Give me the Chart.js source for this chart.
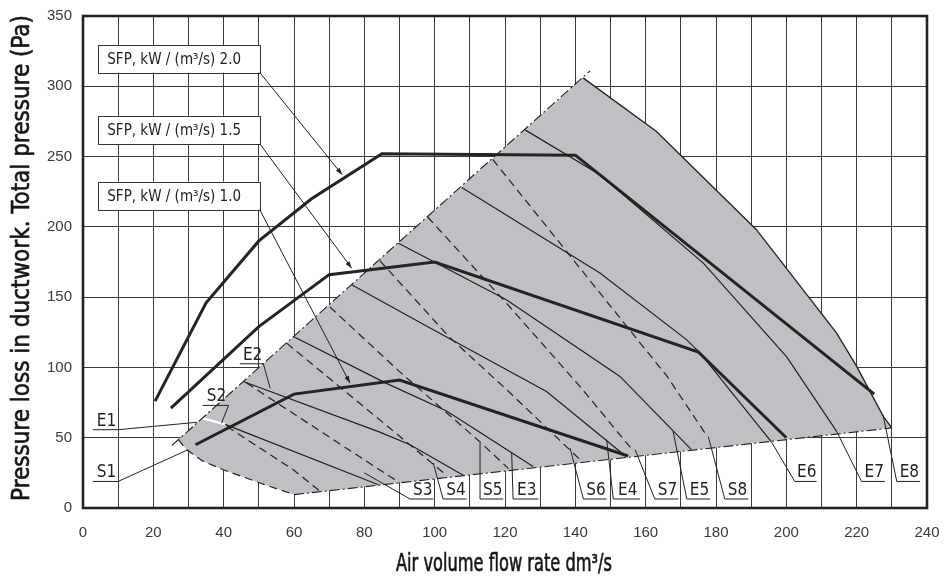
<!DOCTYPE html>
<html>
<head>
<meta charset="utf-8">
<script src="https://cdn.jsdelivr.net/npm/chart.js@4.4.1/dist/chart.umd.min.js"></script>
<style>
  html, body { margin: 0; padding: 0; background: #ffffff; }
  #chart { display: block; }
</style>
</head>
<body>
<canvas id="chart" width="947" height="584"></canvas>
<script>
// ---- Specific fan power curves (air flow dm3/s, total pressure Pa) ----
const sfp20 = [[20.5, 76], [35, 146], [50, 190], [65, 220], [85, 252], [140, 251], [225, 81]];
const sfp15 = [[25, 71], [50, 129], [70, 166], [100, 175], [175, 111], [200, 50]];
const sfp10 = [[32, 45], [60, 81], [90, 91], [155, 37]];

// ---- Fan speed curves E1..E7 (solid) ----
const curveE1 = [[40.4, 59.5], [84, 16.5]];
const curveE1Lead = [[33, 64.5], [40.4, 59.5]];
const curveE2 = [[45.6, 90], [84.4, 54], [93, 45], [108.5, 22.7]];
const curveE3 = [[59.8, 122], [86, 89], [103.4, 69], [128, 29.5]];
const curveE4 = [[76.4, 158.8], [99.6, 126.8], [131.8, 82.9], [154, 37.5]];
const curveE5 = [[89.7, 188.4], [120.4, 148.1], [152.7, 93.6], [173, 41.5]];
const curveE6 = [[107.7, 228], [147, 167.2], [171.6, 119.8], [175.4, 110.5], [195.8, 46.8]];
const curveE7 = [[125.7, 269], [147, 237], [176.4, 174.2], [200.1, 107.5], [214.3, 54.5]];

// ---- System curves S1..S8 (dashed) ----
const curveS1 = [[27.1, 48.6], [29.5, 41.4], [34, 33.5], [39.9, 27.2], [50.3, 17.8], [60, 9.5]];
const curveS2 = [[40.9, 58], [59.8, 27.2], [67.4, 12]];
const curveS3 = [[46.5, 89], [68.3, 53.3], [90, 18]];
const curveS4 = [[57.9, 117.3], [90.1, 50.9], [103.5, 23]];
const curveS5 = [[70.2, 143], [90, 97], [112.9, 47], [121, 28]];
const curveS6 = [[84.4, 176], [104, 122], [121.4, 82], [141.5, 34]];
const curveS7 = [[98, 207], [121.4, 143], [141.3, 86.5], [156, 42]];
const curveS8 = [[116.5, 248], [155, 128], [166, 94], [177.5, 51]];

// ---- Working range outline ----
const rangeUpperEdge = [[25.3, 44.5], [144.2, 311]];
const rangeRightEdge = [[142.2, 306], [163, 268], [191.5, 198], [214.3, 124.4], [220, 100.7], [227.6, 65], [230, 57]];
const rangeLowerEdge = [[60, 9.5], [230, 57]];

// ---- Curve labels: text, underline start/end x, underline y, leader target ----
const labelText = ['S1', 'E1', 'S2', 'E2', 'S3', 'S4', 'S5', 'E3', 'S6', 'E4', 'S7', 'E5', 'S8', 'E6', 'E7', 'E8'];
const labelLineX0 = [2.8, 2.8, 34, 44.6, 93, 102.4, 112.9, 122.3, 142.3, 150.8, 162.6, 171.7, 182.5, 202.4, 221.4, 231.4];
const labelLineX1 = [10, 10, 41.4, 51.3, 99.6, 109.1, 119.5, 129.5, 148.9, 158.4, 169.3, 178.3, 189.2, 208.6, 228, 238];
const labelLineY = [18.9, 55.7, 73, 102.6, 6.4, 6.4, 6.4, 6.4, 6.4, 6.4, 6.4, 6.4, 6.4, 18.9, 18.9, 18.9];
const labelFromX = [10, 10, 41.4, 51.3, 93, 102.4, 112.9, 122.3, 142.3, 150.8, 162.6, 171.7, 182.5, 202.4, 221.4, 231.4];
const labelTargetX = [29.9, 32.5, 39.4, 53.2, 80, 99.6, 112.9, 121.9, 138.5, 148.9, 157, 167.8, 177.8, 195.8, 214.3, 227.5];
const labelTargetY = [41.5, 61, 60.4, 85.3, 25, 32, 46.2, 39.1, 42.6, 48.6, 41.5, 54.5, 50.9, 46.8, 54.5, 66.3];

// ---- SFP callout boxes ----
const sfpBoxText = ['SFP, kW / (m\u00B3/s) 2.0', 'SFP, kW / (m\u00B3/s) 1.5', 'SFP, kW / (m\u00B3/s) 1.0'];
const sfpBoxTop = [329.4, 279.1, 232.2];
const sfpBoxBottom = [309.7, 259, 212.1];
const sfpBoxLeft = 4.35;
const sfpBoxRight = 50.3;
const sfpArrowX = [73.7, 76.4, 75.9];
const sfpArrowY = [237.1, 170.6, 88.9];

const INK = '#231f20';
const FONT = '"Liberation Sans Narrow", "DejaVu Sans Condensed", "Liberation Sans", sans-serif';
const TICK_FONT = '"Liberation Sans", Arial, sans-serif';

const toPoints = arr => arr.map(([x, y]) => ({ x, y }));
function curve(arr, extra) {
  return Object.assign({
    data: toPoints(arr),
    showLine: true,
    pointRadius: 0,
    pointHoverRadius: 0,
    borderColor: INK,
    borderWidth: 1.2,
    tension: 0,
    fill: false
  }, extra || {});
}
const DASH = [8, 5];
const DASH_DOT = [10, 3, 2, 3];

const datasets = [
  curve(rangeUpperEdge, { borderDash: DASH_DOT, borderWidth: 1.1 }),
  curve(rangeLowerEdge, { borderDash: DASH_DOT, borderWidth: 1.1 }),
  curve(rangeRightEdge, { borderWidth: 1.3 }),
  curve(curveS1, { borderDash: DASH, borderWidth: 1.2 }),
  curve(curveS2, { borderDash: DASH }),
  curve(curveS3, { borderDash: DASH }),
  curve(curveS4, { borderDash: DASH }),
  curve(curveS5, { borderDash: DASH }),
  curve(curveS6, { borderDash: DASH }),
  curve(curveS7, { borderDash: DASH }),
  curve(curveS8, { borderDash: DASH }),
  curve(curveE1Lead, { borderColor: '#ffffff', borderWidth: 2.5 }),
  curve(curveE1),
  curve(curveE2),
  curve(curveE3),
  curve(curveE4),
  curve(curveE5),
  curve(curveE6),
  curve(curveE7),
  curve(sfp10, { borderWidth: 3, borderColor: '#262324' }),
  curve(sfp15, { borderWidth: 3, borderColor: '#262324' }),
  curve(sfp20, { borderWidth: 3, borderColor: '#262324' })
];

// grey working-range area, filled beneath the curves
const rangeFill = {
  id: 'rangeFill',
  beforeDatasetsDraw(chart) {
    const { ctx, scales: { x, y } } = chart;
    const outline = [curveS1[0], ...rangeRightEdge, rangeLowerEdge[0], ...curveS1.slice().reverse()];
    ctx.save();
    ctx.beginPath();
    outline.forEach(([a, b], i) => {
      const px = x.getPixelForValue(a), py = y.getPixelForValue(b);
      if (i === 0) ctx.moveTo(px, py); else ctx.lineTo(px, py);
    });
    ctx.closePath();
    ctx.fillStyle = '#bfc0c4';
    ctx.fill();
    ctx.restore();
  }
};

function arrowHead(ctx, x0, y0, x1, y1) {
  const ang = Math.atan2(y1 - y0, x1 - x0);
  const len = 7, half = 2.4;
  ctx.beginPath();
  ctx.moveTo(x1, y1);
  ctx.lineTo(x1 - len * Math.cos(ang) + half * Math.sin(ang), y1 - len * Math.sin(ang) - half * Math.cos(ang));
  ctx.lineTo(x1 - len * Math.cos(ang) - half * Math.sin(ang), y1 - len * Math.sin(ang) + half * Math.cos(ang));
  ctx.closePath();
  ctx.fill();
}

// heavier title text: fill plus a thin outline of the same colour
function heavyText(ctx, text, width) {
  ctx.fillText(text, 0, 0);
  ctx.lineWidth = width;
  ctx.strokeText(text, 0, 0);
}

// curve labels, SFP callouts, axis titles and frame
const annotations = {
  id: 'annotations',
  afterDatasetsDraw(chart) {
    const { ctx, scales: { x, y } } = chart;
    ctx.save();
    ctx.strokeStyle = INK;
    ctx.fillStyle = INK;
    ctx.lineWidth = 1;

    // curve labels with underline and leader
    ctx.font = '17px ' + FONT;
    ctx.textBaseline = 'alphabetic';
    ctx.textAlign = 'center';
    labelText.forEach((t, i) => {
      const ux0 = x.getPixelForValue(labelLineX0[i]);
      const ux1 = x.getPixelForValue(labelLineX1[i]);
      const uy = y.getPixelForValue(labelLineY[i]);
      ctx.beginPath();
      ctx.moveTo(ux0, uy);
      ctx.lineTo(ux1, uy);
      ctx.moveTo(x.getPixelForValue(labelFromX[i]), uy);
      ctx.lineTo(x.getPixelForValue(labelTargetX[i]), y.getPixelForValue(labelTargetY[i]));
      ctx.stroke();
      ctx.fillText(t, (ux0 + ux1) / 2 + 1, uy - 4);
    });

    // SFP callouts
    ctx.textAlign = 'left';
    ctx.textBaseline = 'middle';
    ctx.font = '15px ' + FONT;
    sfpBoxText.forEach((t, i) => {
      const l = x.getPixelForValue(sfpBoxLeft), r = x.getPixelForValue(sfpBoxRight);
      const tp = y.getPixelForValue(sfpBoxTop[i]), bt = y.getPixelForValue(sfpBoxBottom[i]);
      const ax = x.getPixelForValue(sfpArrowX[i]), ay = y.getPixelForValue(sfpArrowY[i]);
      ctx.fillStyle = '#ffffff';
      ctx.fillRect(l, tp, r - l, bt - tp);
      ctx.strokeStyle = '#333333';
      ctx.lineWidth = 1;
      ctx.strokeRect(Math.round(l) + 0.5, Math.round(tp) + 0.5, Math.round(r - l), Math.round(bt - tp));
      ctx.fillStyle = '#222222';
      ctx.fillText(t, l + 9, (tp + bt) / 2 + 1);
      ctx.strokeStyle = INK;
      ctx.beginPath();
      ctx.moveTo(r, bt);
      ctx.lineTo(ax, ay);
      ctx.stroke();
      ctx.fillStyle = INK;
      arrowHead(ctx, r, bt, ax, ay);
    });
    ctx.restore();
  },
  afterDraw(chart) {
    const { ctx, chartArea: a } = chart;
    ctx.save();
    ctx.strokeStyle = '#222222';
    ctx.lineWidth = 2.6;
    ctx.strokeRect(a.left, a.top, a.right - a.left, a.bottom - a.top);

    ctx.fillStyle = '#161616';
    ctx.strokeStyle = '#161616';
    ctx.textAlign = 'center';
    ctx.textBaseline = 'middle';
    // x axis title
    ctx.font = '24px ' + FONT;
    const xt = 'Air volume flow rate dm\u00B3/s';
    const xw = ctx.measureText(xt).width;
    ctx.save();
    ctx.translate(504, 565);
    ctx.scale(Math.min(1, 216 / xw), 1);
    heavyText(ctx, xt, 0.6);
    ctx.restore();
    // y axis title
    const yt = 'Pressure loss in ductwork. Total pressure (Pa)';
    const yw = ctx.measureText(yt).width;
    ctx.save();
    ctx.translate(23, 258);
    ctx.rotate(-Math.PI / 2);
    ctx.scale(Math.min(1, 486 / yw), 1);
    heavyText(ctx, yt, 0.6);
    ctx.restore();
    ctx.restore();
  }
};

new Chart(document.getElementById('chart'), {
  type: 'scatter',
  data: { datasets },
  plugins: [rangeFill, annotations],
  options: {
    responsive: false,
    animation: false,
    events: [],
    layout: { padding: { top: 16, right: 20, left: 0, bottom: 0 } },
    plugins: { legend: { display: false }, tooltip: { enabled: false } },
    scales: {
      x: {
        type: 'linear',
        min: 0,
        max: 240,
        afterFit(scale) {
          scale.height = 76;
          scale.paddingLeft = 0;
          scale.paddingRight = 0;
        },
        border: { display: false },
        grid: { color: '#3a3a3a', lineWidth: 1, drawTicks: false },
        ticks: {
          stepSize: 10,
          autoSkip: false,
          maxRotation: 0,
          padding: 16,
          color: '#3a3a3a',
          font: { family: TICK_FONT, size: 15 },
          callback: v => (v % 20 === 0 ? String(v) : '')
        }
      },
      y: {
        type: 'linear',
        min: 0,
        max: 350,
        afterFit(scale) {
          scale.width = 83;
          scale.paddingTop = 0;
          scale.paddingBottom = 0;
        },
        border: { display: false },
        grid: { color: '#3a3a3a', lineWidth: 1, drawTicks: false },
        ticks: {
          stepSize: 50,
          padding: 11,
          color: '#3a3a3a',
          font: { family: TICK_FONT, size: 15 }
        }
      }
    }
  }
});
</script>
</body>
</html>
